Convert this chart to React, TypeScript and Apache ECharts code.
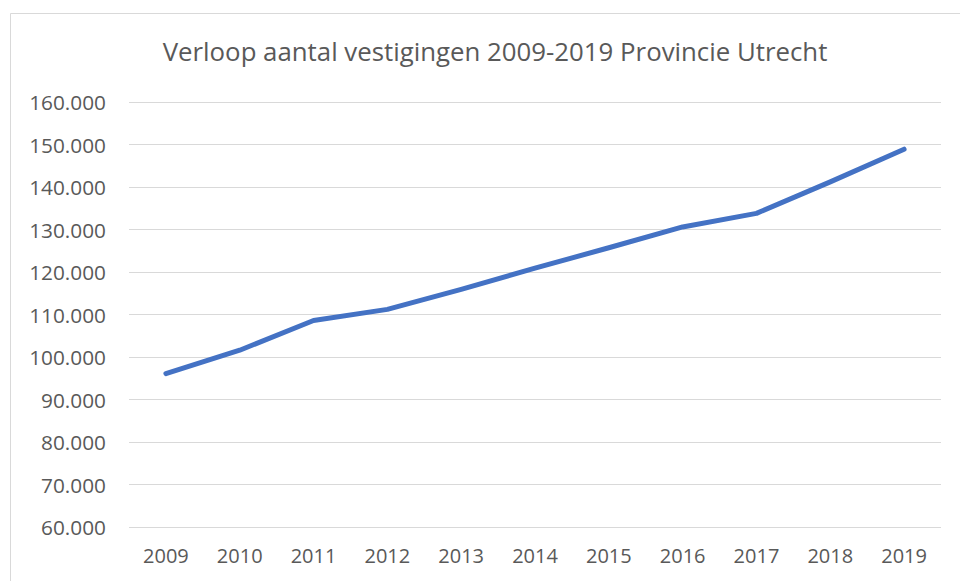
import React, { useEffect, useRef } from "react";
import * as echarts from "echarts";

const years = ["2009", "2010", "2011", "2012", "2013", "2014", "2015", "2016", "2017", "2018", "2019"];
const vestigingen = [96100, 101600, 108600, 111200, 115900, 120900, 125700, 130600, 133800, 141200, 148900];
const titleText = "Verloop aantal vestigingen 2009-2019 Provincie Utrecht";

const fmt = (v: number) => {
  const s = String(Math.round(v));
  return s.replace(/\B(?=(\d{3})+(?!\d))/g, ".");
};

export default function App() {
  const ref = useRef<HTMLDivElement>(null);
  useEffect(() => {
    if (!ref.current) return;
    const chart = echarts.init(ref.current, undefined, { renderer: "svg" });
    chart.setOption({
      animation: false,
      backgroundColor: "#ffffff",
      title: {
        text: titleText,
        left: 490,
        textAlign: "center",
        top: 33,
        textStyle: { fontFamily: "Open Sans", fontSize: 25.8, fontWeight: "normal", color: "#595959" },
      },
      graphic: [
        {
          type: "rect",
          shape: { x: 10.5, y: 13.5, width: 980, height: 620 },
          style: { fill: "none", stroke: "#d9d9d9", lineWidth: 1 },
          silent: true,
        },
      ],
      grid: { left: 129, right: 19, top: 102, bottom: 54, containLabel: false },
      xAxis: {
        type: "category",
        data: years,
        boundaryGap: true,
        axisLine: { show: false },
        axisTick: { show: false },
        axisLabel: { color: "#595959", fontFamily: "Open Sans", fontSize: 20, margin: 18 },
      },
      yAxis: {
        type: "value",
        min: 60000,
        max: 160000,
        interval: 10000,
        axisLine: { show: false },
        axisTick: { show: false },
        splitLine: { lineStyle: { color: "#d9d9d9", width: 1 } },
        axisLabel: { color: "#595959", fontFamily: "Open Sans", fontSize: 20.8, margin: 23, formatter: (v: number) => fmt(v) },
      },
      series: [
        {
          type: "line",
          data: vestigingen,
          showSymbol: false,
          symbol: "none",
          lineStyle: { color: "#4472C4", width: 5, cap: "round", join: "round" },
        },
      ],
    });
    return () => chart.dispose();
  }, []);
  return <div ref={ref} style={{ position: "fixed", left: 0, top: 0, width: 960, height: 581 }} />;
}
